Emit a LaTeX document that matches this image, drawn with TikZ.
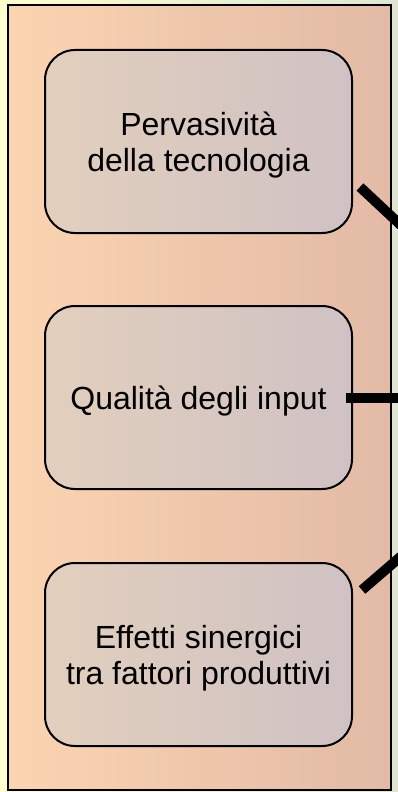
\documentclass[tikz,border=0pt]{standalone}
\usepackage{fontspec}
\setmainfont{Liberation Sans}
\definecolor{pageL}{RGB}{255,255,205}
\definecolor{pageR}{RGB}{224,229,210}
\definecolor{outerL}{RGB}{251,213,177}
\definecolor{outerR}{RGB}{226,186,166}
\definecolor{boxL}{RGB}{226,207,189}
\definecolor{boxR}{RGB}{208,194,196}
\begin{document}
\begin{tikzpicture}[x=1pt,y=-1pt,
  factor/.style={draw=black, line width=2pt, rounded corners=30pt,
    left color=boxL, right color=boxR, minimum width=307pt, minimum height=183pt,
    align=center, inner sep=0pt, font=\fontsize{32}{36}\selectfont},
  twoline/.style={text height=66pt},
  oneline/.style={text height=31pt},
  link/.style={draw=black, line width=10pt}]
\useasboundingbox (0,0) rectangle (398,792);
\clip (0,0) rectangle (398,792);
\shade[left color=pageL, right color=pageR] (0,0) rectangle (398,792);
\shade[left color=outerL, right color=outerR] (8,5) rectangle (391,790);
\draw[line width=1.8pt] (8,5) rectangle (391,790);
\node[factor,twoline] (b1) at (198.5,141.5) {Pervasività\\della tecnologia};
\node[factor,oneline] (b2) at (198.5,397.5) {Qualità degli input};
\node[factor,twoline] (b3) at (198.5,654.5) {Effetti sinergici\\tra fattori produttivi};
\coordinate (hub) at (585,397.5);
\coordinate (s1) at (360,187);
\coordinate (s3) at (362,590);
\path[link] (s1) -- (hub);
\path[link] ([xshift=-7pt]b2.east) -- (hub);
\path[link] (s3) -- (hub);
\end{tikzpicture}
\end{document}
